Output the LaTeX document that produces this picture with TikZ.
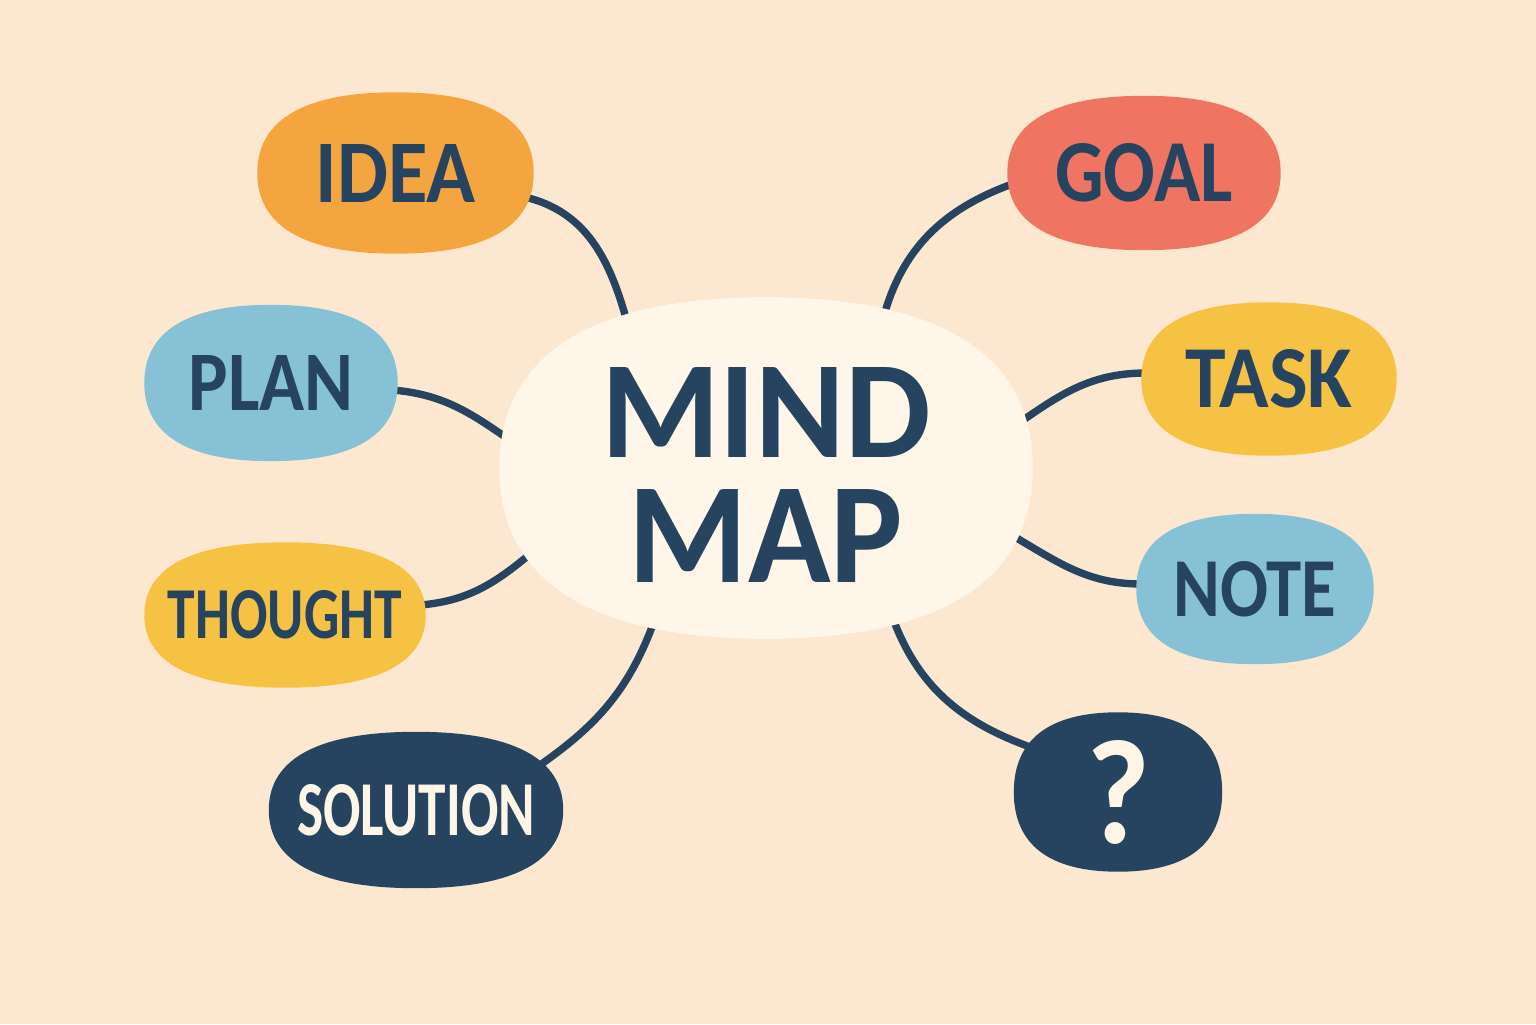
\documentclass[tikz,border=0pt]{standalone}
\usepackage{fontspec}
\usepackage{graphicx}
\setmainfont{Carlito}
\usetikzlibrary{positioning,calc}

\definecolor{bgcream}{HTML}{FCE8D1}
\definecolor{mindfill}{HTML}{FEF6E8}
\definecolor{navy}{HTML}{26445F}
\definecolor{ideaorange}{HTML}{F4A540}
\definecolor{skyblue}{HTML}{86C1D6}
\definecolor{sunyellow}{HTML}{F5C244}
\definecolor{coral}{HTML}{EF7462}
\definecolor{paper}{HTML}{FDF5E5}

% label squeezed to the width and cap height of the drawing
\newcommand{\fitlabel}[3]{\resizebox{#1}{#2}{\bfseries #3}}

\pgfdeclarelayer{bg}
\pgfdeclarelayer{links}
\pgfdeclarelayer{blobs}
\pgfsetlayers{bg,links,blobs,main}

\begin{document}
\begin{tikzpicture}[node distance=2.1cm,blob/.style={inner sep=0pt,text=navy},main blob/.style={blob,minimum width=5.32cm,minimum height=3.40cm,align=center,font=\fontsize{10}{35.6}\selectfont},blob path/.style={insert path={(#1.east) .. controls ($(#1.east)!0.66!(#1.north east)$) and ($(#1.north)!0.66!(#1.north east)$) .. (#1.north) .. controls ($(#1.north)!0.66!(#1.north west)$) and ($(#1.west)!0.66!(#1.north west)$) .. (#1.west) .. controls ($(#1.west)!0.66!(#1.south west)$) and ($(#1.south)!0.66!(#1.south west)$) .. (#1.south) .. controls ($(#1.south)!0.66!(#1.south east)$) and ($(#1.east)!0.66!(#1.south east)$) .. (#1.east) -- cycle}}]
            \begin{pgfonlayer}{bg}
                \fill[bgcream] (0,0) rectangle (15.36,10.24);
            \end{pgfonlayer}

            \node[main blob] (mind) at (7.66,5.56) {\raisebox{-0.07cm}[0.90cm][0pt]{\fitlabel{3.30cm}{0.90cm}{MIND}}\\\raisebox{-0.07cm}[0.93cm][0pt]{\fitlabel{2.74cm}{0.93cm}{MAP}}};

            \node[blob,minimum width=2.75cm,minimum height=1.60cm] (idea) at (3.955,8.51) {\fitlabel{1.60cm}{0.58cm}{IDEA}};
            \node[blob,minimum width=2.52cm,minimum height=1.55cm] (plan) [below of = idea, xshift = -1.245cm] {\fitlabel{1.65cm}{0.55cm}{PLAN}};
            \node[blob,minimum width=2.80cm,minimum height=1.44cm] (thought) [below of = plan, xshift = 0.14cm, yshift = -0.22cm] {\fitlabel{2.34cm}{0.48cm}{THOUGHT}};
            \node[blob,text=paper,minimum width=2.93cm,minimum height=1.55cm] (solution) [below of = thought, xshift = 1.31cm, yshift = 0.15cm] {\fitlabel{2.38cm}{0.51cm}{SOLUTION}};

            \node[blob,minimum width=2.72cm,minimum height=1.53cm] (goal) [right of = idea, xshift = 5.385cm] {\fitlabel{1.78cm}{0.58cm}{GOAL}};
            \node[blob,minimum width=2.54cm,minimum height=1.52cm] (task) [below of = goal, xshift = 1.25cm, yshift = 0.04cm] {\fitlabel{1.67cm}{0.58cm}{TASK}};
            \node[blob,minimum width=2.36cm,minimum height=1.49cm] (note) [below of = task, xshift = -0.14cm] {\fitlabel{1.63cm}{0.55cm}{NOTE}};
            \node[blob,text=paper,minimum width=2.07cm,minimum height=1.58cm] (quest) [below of = note, xshift = -1.37cm, yshift = 0.07cm] {\fitlabel{0.64cm}{1.03cm}{?}};

            \begin{pgfonlayer}{blobs}
                \path[fill=mindfill,blob path=mind];
                \path[fill=ideaorange,blob path=idea];
                \path[fill=skyblue,blob path=plan];
                \path[fill=sunyellow,blob path=thought];
                \path[fill=navy,blob path=solution];
                \path[fill=coral,blob path=goal];
                \path[fill=sunyellow,blob path=task];
                \path[fill=skyblue,blob path=note];
                \path[fill=navy,blob path=quest];
            \end{pgfonlayer}

            \begin{pgfonlayer}{links}
            \path[every edge/.style={draw=navy,line width=2.1pt}]
                ([shift={(-0.05,-0.25)}]idea.east) edge[out=-15,in=105] ([shift={(-1.37,1.39)}]mind.center)
                ([shift={(-0.05,-0.07)}]plan.east) edge[out=-5,in=145] ([shift={(-2.55,0.27)}]mind.center)
                ([shift={(-0.05,0.10)}]thought.east) edge[out=5,in=220] ([shift={(-2.31,-0.82)}]mind.center)
                ([shift={(1.24,0.45)}]solution.center) edge[out=35,in=250] ([shift={(-1.11,-1.51)}]mind.center)

                ([shift={(0.05,-0.11)}]goal.west) edge[out=200,in=75] ([shift={(1.17,1.49)}]mind.center)
                ([shift={(0.05,0.06)}]task.west) edge[out=180,in=35] ([shift={(2.53,0.45)}]mind.center)
                ([shift={(0.05,0.05)}]note.west) edge[out=180,in=-30] ([shift={(2.42,-0.65)}]mind.center)
                ([shift={(-0.88,0.45)}]quest.center) edge[out=160,in=-70] ([shift={(1.26,-1.48)}]mind.center)
                ;
            \end{pgfonlayer}
        \end{tikzpicture}
\end{document}
